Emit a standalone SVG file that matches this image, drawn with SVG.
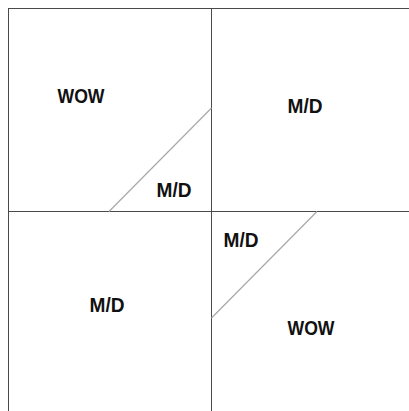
<svg xmlns="http://www.w3.org/2000/svg" width="409" height="411" viewBox="0 0 409 411">
<style>
.frame{stroke:#4a4a4a;stroke-width:1;fill:none}
.diag{stroke:#a8a8a8;stroke-width:1.2;fill:none}
.lbl{font-family:"Liberation Sans",Arial,sans-serif;font-weight:bold;font-size:20px;fill:#111;text-anchor:middle}
</style>
<rect width="409" height="411" fill="#fff"/>
<g id="connectors">
<line class="frame" x1="8" y1="8.5" x2="409" y2="8.5"/>
<line class="frame" x1="8.5" y1="8" x2="8.5" y2="411"/>
<line class="frame" x1="211.5" y1="8" x2="211.5" y2="411"/>
<line class="frame" x1="8" y1="211.5" x2="409" y2="211.5"/>
<line class="diag" x1="211.5" y1="108" x2="109" y2="211.5"/>
<line class="diag" x1="317" y1="211.5" x2="211.5" y2="318"/>
</g>
<g id="tl-wow"><text class="lbl" x="81" y="103" textLength="47" lengthAdjust="spacingAndGlyphs">WOW</text></g>
<g id="tr-md"><text class="lbl" x="305" y="112.5" textLength="35" lengthAdjust="spacingAndGlyphs">M/D</text></g>
<g id="tl-tri-md"><text class="lbl" x="174" y="197" textLength="35" lengthAdjust="spacingAndGlyphs">M/D</text></g>
<g id="br-tri-md"><text class="lbl" x="241" y="247" textLength="35" lengthAdjust="spacingAndGlyphs">M/D</text></g>
<g id="bl-md"><text class="lbl" x="107" y="312" textLength="35" lengthAdjust="spacingAndGlyphs">M/D</text></g>
<g id="br-wow"><text class="lbl" x="311" y="335" textLength="47" lengthAdjust="spacingAndGlyphs">WOW</text></g>
</svg>
